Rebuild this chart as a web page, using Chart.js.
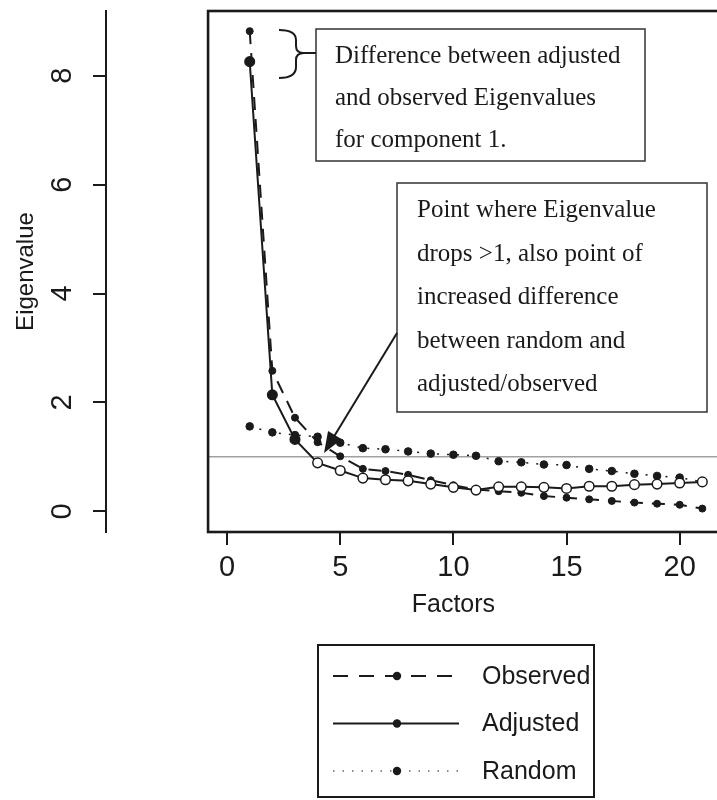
<!DOCTYPE html>
<html>
<head>
<meta charset="utf-8">
<script src="https://cdn.jsdelivr.net/npm/chart.js@4"></script>
<style>
  body { margin: 0; background: #fff; }
  #wrap { width: 717px; height: 800px; }
</style>
</head>
<body>
<div id="wrap"><canvas id="scree" width="717" height="800"></canvas></div>
<script>
// values
const factors  = [1, 2, 3, 4, 5, 6, 7, 8, 9, 10, 11, 12, 13, 14, 15, 16, 17, 18, 19, 20, 21];
const observed = [8.82, 2.58, 1.72, 1.27, 1.01, 0.78, 0.74, 0.67, 0.57, 0.48, 0.40, 0.37, 0.34, 0.28, 0.25, 0.22, 0.19, 0.16, 0.14, 0.12, 0.05];
const adjusted = [8.26, 2.14, 1.32, 0.89, 0.75, 0.61, 0.58, 0.56, 0.50, 0.44, 0.39, 0.45, 0.45, 0.44, 0.42, 0.46, 0.46, 0.49, 0.50, 0.52, 0.54];
const random   = [1.56, 1.45, 1.40, 1.37, 1.26, 1.16, 1.14, 1.10, 1.06, 1.04, 1.02, 0.92, 0.90, 0.86, 0.85, 0.78, 0.74, 0.69, 0.65, 0.62, 0.54];
const seriesNames = ['Observed', 'Adjusted', 'Random'];
const xTicks = [0, 5, 10, 15, 20];
const yTicks = [0, 2, 4, 6, 8];
const xTitle = 'Factors';
const yTitle = 'Eigenvalue';
const note1 = ['Difference between adjusted', 'and observed Eigenvalues', 'for component 1.'];
const note2 = ['Point where Eigenvalue', 'drops >1, also point of', 'increased difference', 'between random and', 'adjusted/observed'];

const INK = '#1a1a1a';
const SANS = '"Liberation Sans", Arial, sans-serif';
const SERIF = '"Liberation Serif", "Times New Roman", serif';
const box = { xMin: -0.84, xMax: 21.84, yMin: -0.38, yMax: 9.19 };

const toPoints = arr => arr.map((v, i) => ({ x: factors[i], y: v }));

// frame, reference line, notes and the legend
const decor = {
  id: 'decor',
  beforeDatasetsDraw(chart) {
    const { ctx, scales: { x, y } } = chart;
    const left = x.getPixelForValue(box.xMin);
    ctx.save();
    ctx.strokeStyle = '#a0a0a0';
    ctx.lineWidth = 1.5;
    ctx.beginPath();
    ctx.moveTo(left, y.getPixelForValue(1));
    ctx.lineTo(chart.width, y.getPixelForValue(1));
    ctx.stroke();
    ctx.restore();
  },
  afterDraw(chart) {
    const { ctx, scales: { x, y } } = chart;
    const l = x.getPixelForValue(box.xMin), r = x.getPixelForValue(box.xMax);
    const t = y.getPixelForValue(box.yMax), b = y.getPixelForValue(box.yMin);
    ctx.save();
    ctx.strokeStyle = INK;
    ctx.lineWidth = 2.6;
    ctx.strokeRect(l, t, r - l, b - t);

    // y tick labels, rotated like the base graphics axis
    ctx.fillStyle = INK;
    ctx.font = '29px ' + SANS;
    ctx.textAlign = 'center';
    ctx.textBaseline = 'middle';
    yTicks.forEach(v => {
      ctx.save();
      ctx.translate(62, y.getPixelForValue(v));
      ctx.rotate(-Math.PI / 2);
      ctx.fillText(String(v), 0, 1);
      ctx.restore();
    });

    // x title
    ctx.font = '25px ' + SANS;
    ctx.fillText(xTitle, x.getPixelForValue(10), 605);

    // note 1 with brace
    ctx.lineWidth = 1.5;
    ctx.strokeStyle = '#333';
    ctx.strokeRect(316, 29, 329, 132);
    ctx.font = '25px ' + SERIF;
    ctx.textAlign = 'left';
    ctx.textBaseline = 'alphabetic';
    note1.forEach((s, i) => ctx.fillText(s, 335, 63 + i * 42));
    ctx.lineWidth = 2;
    ctx.strokeStyle = INK;
    ctx.beginPath();
    ctx.moveTo(279, 30);
    ctx.quadraticCurveTo(296, 30, 296, 40);
    ctx.lineTo(296, 46);
    ctx.quadraticCurveTo(296, 53, 304, 53);
    ctx.quadraticCurveTo(296, 53, 296, 60);
    ctx.lineTo(296, 67);
    ctx.quadraticCurveTo(296, 78, 279, 78);
    ctx.moveTo(304, 53);
    ctx.lineTo(316, 53);
    ctx.stroke();

    // note 2 with arrow
    ctx.lineWidth = 1.5;
    ctx.strokeStyle = '#333';
    ctx.fillStyle = '#fff';
    ctx.fillRect(397, 183, 310, 229);
    ctx.strokeRect(397, 183, 310, 229);
    ctx.fillStyle = INK;
    note2.forEach((s, i) => ctx.fillText(s, 417, 217 + i * 43.5));
    const ax = 397, ay = 333, tx = 324, ty = 453;
    const ang = Math.atan2(ty - ay, tx - ax);
    ctx.strokeStyle = INK;
    ctx.lineWidth = 2;
    ctx.beginPath();
    ctx.moveTo(ax, ay);
    ctx.lineTo(tx - 14 * Math.cos(ang), ty - 14 * Math.sin(ang));
    ctx.stroke();
    ctx.beginPath();
    ctx.moveTo(tx, ty);
    ctx.lineTo(tx - 21 * Math.cos(ang) + 8 * Math.sin(ang), ty - 21 * Math.sin(ang) - 8 * Math.cos(ang));
    ctx.lineTo(tx - 21 * Math.cos(ang) - 8 * Math.sin(ang), ty - 21 * Math.sin(ang) + 8 * Math.cos(ang));
    ctx.closePath();
    ctx.fill();

    // legend
    ctx.strokeStyle = INK;
    ctx.lineWidth = 2;
    ctx.strokeRect(318, 645, 276, 152);
    ctx.font = '25px ' + SANS;
    ctx.textBaseline = 'middle';
    chart.data.datasets.forEach((ds, i) => {
      const ly = 676 + i * 47.5;
      ctx.save();
      ctx.strokeStyle = INK;
      ctx.lineWidth = i === 2 ? 1.2 : 2;
      ctx.setLineDash(i === 0 ? [15, 11] : i === 2 ? [1.5, 8] : []);
      ctx.beginPath();
      ctx.moveTo(333, ly);
      ctx.lineTo(459, ly);
      ctx.stroke();
      ctx.restore();
      ctx.beginPath();
      ctx.arc(397, ly, 4.2, 0, Math.PI * 2);
      ctx.fill();
      ctx.fillText(ds.label, 482, ly + 1);
    });
    ctx.restore();
  }
};

new Chart(document.getElementById('scree'), {
  type: 'line',
  data: {
    datasets: [
      {
        label: seriesNames[0],
        data: toPoints(observed),
        borderColor: INK,
        borderWidth: 2,
        borderDash: [13, 9],
        pointRadius: 3.5,
        pointBackgroundColor: INK,
        pointBorderColor: INK,
        pointBorderWidth: 1,
        order: 1
      },
      {
        label: seriesNames[1],
        data: toPoints(adjusted),
        borderColor: INK,
        borderWidth: 2,
        pointRadius: 4.8,
        pointBackgroundColor: adjusted.map(v => v > 1 ? INK : '#fff'),
        pointBorderColor: INK,
        pointBorderWidth: 1.5,
        order: 0
      },
      {
        label: seriesNames[2],
        data: toPoints(random),
        borderColor: INK,
        borderWidth: 1.5,
        borderDash: [2, 8],
        pointRadius: 3.8,
        pointBackgroundColor: INK,
        pointBorderColor: INK,
        pointBorderWidth: 1,
        order: 2
      }
    ]
  },
  options: {
    responsive: false,
    animation: false,
    events: [],
    layout: { padding: { top: 11, left: 0, right: 0, bottom: 0 } },
    plugins: { legend: { display: false }, tooltip: { enabled: false } },
    scales: {
      x: {
        type: 'linear',
        min: -5.35,
        max: 21.37,
        afterBuildTicks: s => { s.ticks = xTicks.map(v => ({ value: v })); },
        afterFit: s => { s.height = 268; },
        border: { display: false },
        grid: { drawOnChartArea: false, drawTicks: true, tickLength: 13, color: INK, lineWidth: 2 },
        ticks: { color: INK, font: { family: SANS, size: 29 }, padding: 6, maxRotation: 0, autoSkip: false }
      },
      y: {
        type: 'linear',
        min: box.yMin,
        max: box.yMax,
        afterBuildTicks: s => { s.ticks = yTicks.map(v => ({ value: v })); },
        afterFit: s => { s.width = 106; },
        border: { display: true, color: INK, width: 2 },
        grid: { drawOnChartArea: false, drawTicks: true, tickLength: 13, color: INK, lineWidth: 2 },
        ticks: { display: false },
        title: {
          display: true,
          text: yTitle,
          color: INK,
          font: { family: SANS, size: 24 },
          padding: { top: 12, bottom: 0 }
        }
      }
    }
  },
  plugins: [decor]
});
</script>
</body>
</html>
